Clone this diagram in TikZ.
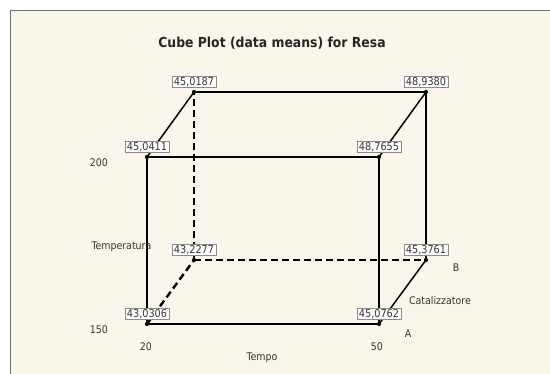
\documentclass[tikz,border=0pt]{standalone}
\usepackage{fontspec}
\setmainfont{DejaVu Sans Condensed}
\definecolor{cream}{HTML}{FBF6EB}
\definecolor{framegray}{HTML}{6E6E6E}
\definecolor{boxgray}{HTML}{8A8A8A}
\definecolor{txtgray}{HTML}{333333}
\begin{document}
\begin{tikzpicture}[x=1pt,y=-1pt,
  edge/.style={line width=1.9pt,black},
  diag/.style={line width=1.5pt,black},
  hidden/.style={line width=2.4pt,black,dash pattern=on 7pt off 4pt},
  valbox/.style={draw=boxgray,fill=white,line width=0.6pt,inner xsep=2pt,inner ysep=1.5pt,
    text height=8pt,text depth=0pt,
    font=\fontsize{10.8}{11}\selectfont,text=txtgray,anchor=south,yshift=4.5pt},
  axlab/.style={font=\fontsize{10.5}{11}\selectfont,text=txtgray},
  dot/.style={circle,fill=black,inner sep=0pt,minimum size=4.2pt}]
\useasboundingbox (0,0) rectangle (550,374);
\fill[white] (0,0) rectangle (550,374);
\fill[cream] (10.5,10.5) rectangle (550,374);
\draw[framegray,line width=1.6pt] (10.5,374) -- (10.5,10.5) -- (550,10.5);
\node[font=\bfseries\fontsize{13.8}{14}\selectfont,text=black!85] (title) at (272,43) {Cube Plot (data means) for Resa};
% corners
\coordinate (fbl) at (147,324);
\coordinate (fbr) at (379,324);
\coordinate (ftl) at (147,157);
\coordinate (ftr) at (379,157);
\coordinate (bbl) at (194,260);
\coordinate (bbr) at (426,260);
\coordinate (btl) at (194,92);
\coordinate (btr) at (426,92);
% hidden edges
\draw[hidden] (bbl) -- (btl);
\draw[hidden] (bbl) -- (bbr);
\draw[hidden] (fbl) -- (bbl);
% visible edges
\draw[edge] (fbl) -- (fbr) -- (ftr) -- (ftl) -- cycle;
\draw[edge] (btl) -- (btr) -- (bbr);
\draw[diag] (ftl) -- (btl);
\draw[diag] (ftr) -- (btr);
\draw[diag] (fbr) -- (bbr);
% dots
\foreach \c in {fbl,fbr,ftl,ftr,bbl,bbr,btl,btr}{\node[dot] at (\c) {};}
% value labels
\node[valbox] (vbtl) at (btl) {45,0187};
\node[valbox] (vbtr) at (btr) {48,9380};
\node[valbox] (vftl) at (ftl) {45,0411};
\node[valbox] (vftr) at (ftr) {48,7655};
\node[valbox] (vbbl) at (bbl) {43,2277};
\node[valbox] (vbbr) at (bbr) {45,3761};
\node[valbox] (vfbl) at (fbl) {43,0306};
\node[valbox] (vfbr) at (fbr) {45,0762};
% axis labels
\node[axlab] (l200) at (99,163) {200};
\node[axlab] (l150) at (99,330) {150};
\node[axlab,anchor=west] (ltemp) at (88,247) {Temperatura};
\node[axlab] (l20) at (146,347) {20};
\node[axlab] (l50) at (377,347) {50};
\node[axlab] (ltempo) at (262,358) {Tempo};
\node[axlab] (lA) at (408,334) {A};
\node[axlab] (lB) at (456,268) {B};
\node[axlab] (lcat) at (440,301) {Catalizzatore};
\end{tikzpicture}
\end{document}
